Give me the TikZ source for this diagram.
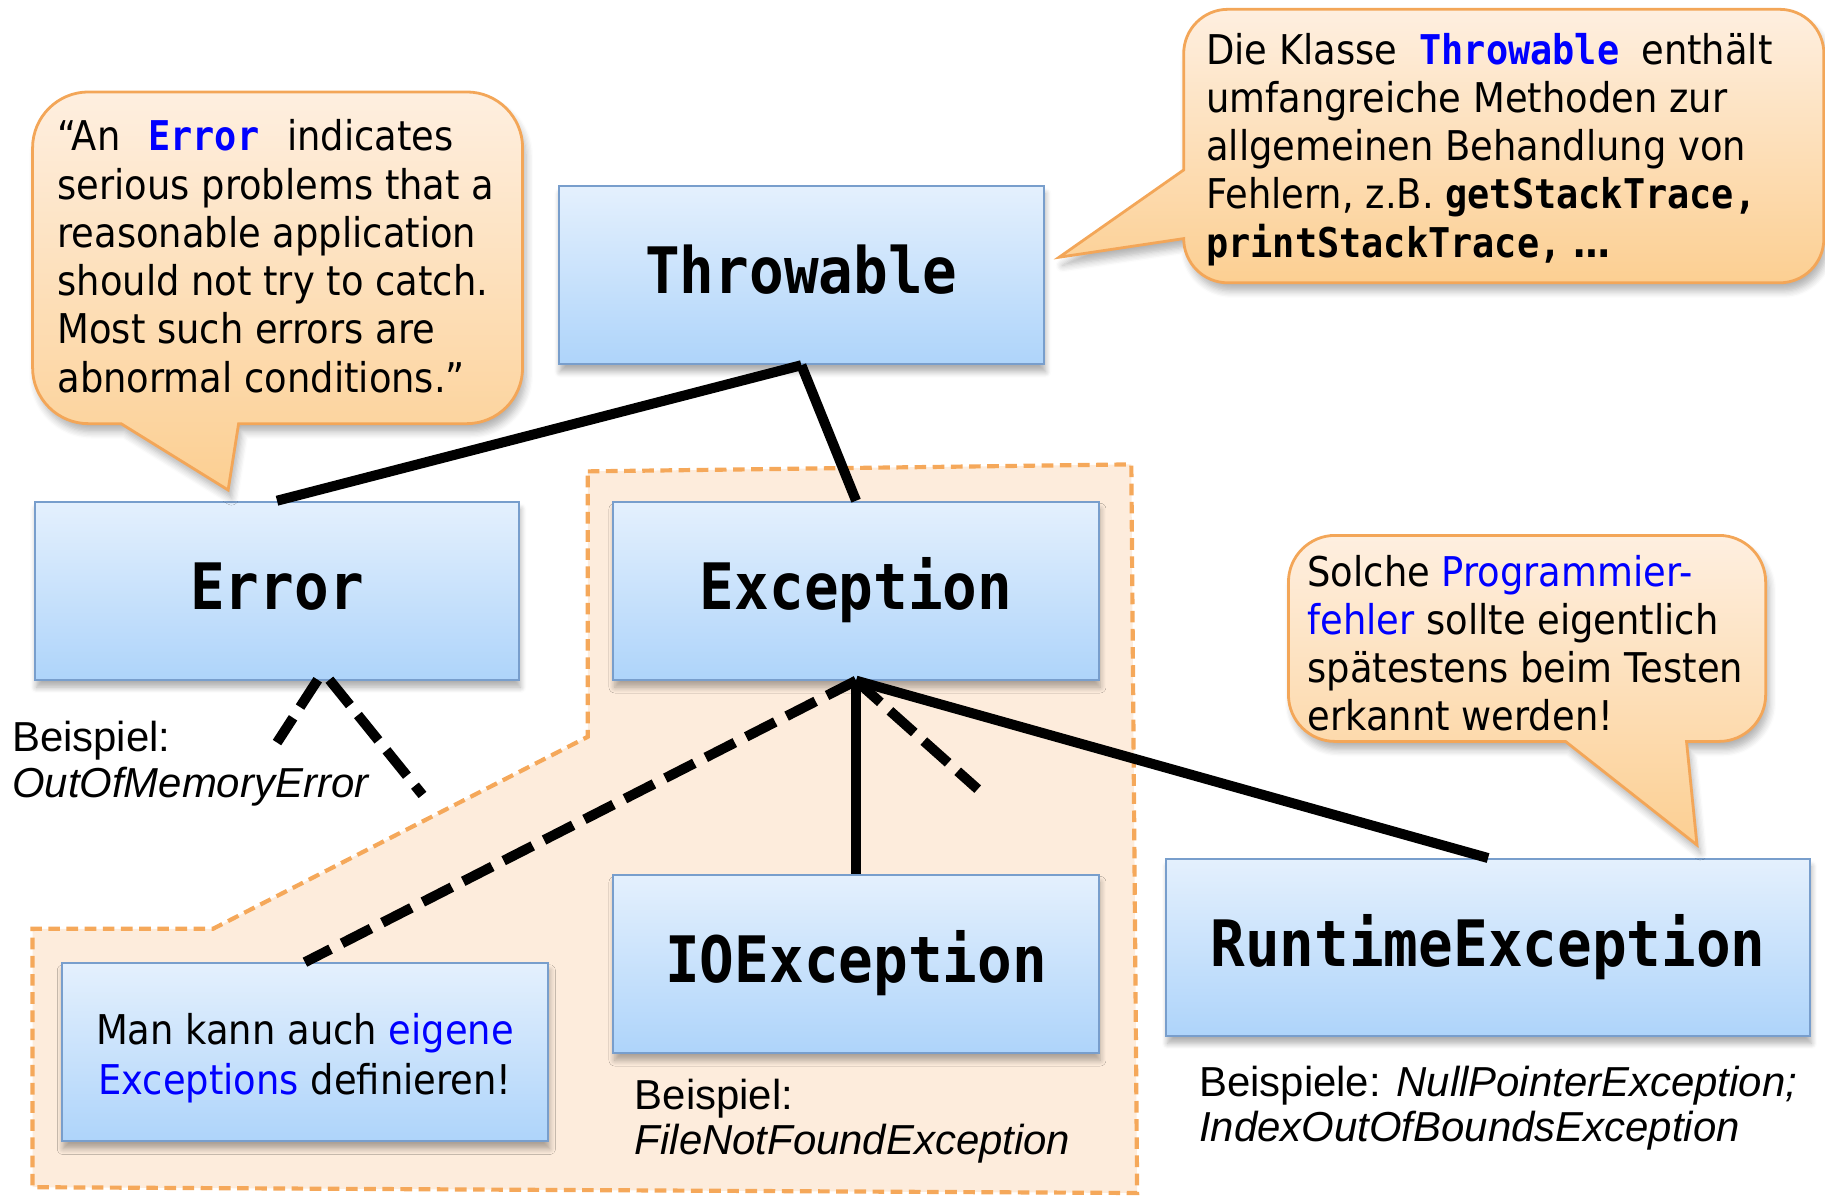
\documentclass[tikz,border=0pt]{standalone}
\usepackage{fontspec}
\setmainfont{DejaVu Sans}[FakeStretch=0.9]
\newfontfamily\codefont{DejaVu Sans Mono}[FakeStretch=0.9]
\newfontfamily\lblfont{Liberation Sans}
\usetikzlibrary{shadows.blur}
\definecolor{boxtop}{RGB}{228,240,253}
\definecolor{boxbot}{RGB}{174,212,250}
\definecolor{boxline}{RGB}{120,158,204}
\definecolor{calltop}{RGB}{254,239,224}
\definecolor{callbot}{RGB}{252,207,146}
\definecolor{callline}{RGB}{243,166,88}
\definecolor{regfill}{RGB}{253,236,220}
\definecolor{regline}{RGB}{245,168,90}
\definecolor{kwblue}{RGB}{0,0,255}
\newcommand\cd[1]{{\codefont\bfseries #1}}
\tikzset{
  classbox/.style={draw=boxline, line width=0.8pt, top color=boxtop, bottom color=boxbot,
    minimum height=76.5pt, inner sep=0pt,
    font=\codefont\bfseries\fontsize{27.5}{33}\selectfont,
    blur shadow={shadow xshift=0.6pt, shadow yshift=-3.2pt, shadow blur radius=2.5pt, shadow blur steps=6, shadow opacity=32}},
  classname/.style={text height=22pt, text depth=6pt},
  callshape/.style={draw=callline, line width=1.2pt, top color=calltop, bottom color=callbot,
    blur shadow={shadow xshift=1.5pt, shadow yshift=-3.5pt, shadow blur radius=3pt, shadow blur steps=6, shadow opacity=30}},
  ctext/.style={font=\fontsize{17.6}{20.75}\selectfont, inner sep=0pt, align=left, anchor=base west},
  lbl/.style={font=\lblfont\fontsize{18}{19.5}\selectfont, inner sep=0pt, align=left, anchor=base west},
  link/.style={line width=4.3pt, black},
  dlink/.style={link, dash pattern=on 14pt off 5.5pt},
  region/.style={fill=regfill, draw=regline, line width=1.8pt, dash pattern=on 5pt off 2.8pt}
}
\begin{document}
\begin{tikzpicture}[x=0.5pt,y=-0.5pt]
\useasboundingbox (0,0) rectangle (1568,1027.6);

% dashed region
\path[region] (505,405) -- (972,399) -- (977,1025) -- (28,1020) -- (28,798) -- (183,798) -- (505,633) -- cycle;

% free ends of the dashed connectors
\coordinate (excfree) at (840,678);
\coordinate (errapexL) at (273,584);
\coordinate (errapexR) at (283,584);
\coordinate (errfreeL) at (238,638);
\coordinate (errfreeR) at (363,683);

% class boxes
\node[classbox, classname, minimum width=208.5pt] (throwable) at (688.5,236.5) {Throwable};
\node[classbox, classname, minimum width=208pt] (error) at (238,507.5) {Error};
\node[classbox, classname, minimum width=208.5pt] (exception) at (735.5,507.5) {Exception};
\node[classbox, classname, minimum width=208.5pt] (ioexc) at (735.5,828) {IOException};
\node[classbox, classname, minimum width=276.5pt, minimum height=76pt] (runtime) at (1278.5,814) {RuntimeException};
\node[classbox, minimum width=209pt, font=\fontsize{17.6}{21.6}\selectfont, align=center] (own) at (262,904)
  {\rule{0pt}{18.4pt}Man kann auch \textcolor{kwblue}{eigene}\\\textcolor{kwblue}{Exceptions} definieren!};

% connectors
\draw[link] (throwable.south) -- (error.north);
\draw[link] (throwable.south) -- (exception.north);
\draw[link] (exception.south) -- (ioexc.north);
\draw[link] (exception.south) -- (runtime.north);
\draw[dlink] (exception.south) -- (own.north);
\draw[dlink] (exception.south) -- (excfree);
\draw[dlink] (errapexL) -- (errfreeL);
\draw[dlink] (errapexR) -- (errfreeR);

% callout 1 (Error quote)
\path[callshape] (76,79) -- (401,79) .. controls (427.5,79) and (449,100.5) .. (449,127)
  -- (449,316) .. controls (449,342.5) and (427.5,364) .. (401,364)
  -- (205,364) -- (196,421) -- (104,364)
  -- (76,364) .. controls (49.5,364) and (28,342.5) .. (28,316)
  -- (28,127) .. controls (28,100.5) and (49.5,79) .. (76,79) -- cycle;
\node[ctext] (quote) at (49,337)
  {“An\hspace{12pt}\textcolor{kwblue}{\cd{Error}}\hspace{12pt}indicates\\serious problems that a\\reasonable application\\should not try to catch.\\Most such errors are\\abnormal conditions.”};

% callout 2 (Throwable)
\path[callshape] (1055,8) -- (1529,8) .. controls (1550,8) and (1567,25) .. (1567,46)
  -- (1567,205) .. controls (1567,226) and (1550,243) .. (1529,243)
  -- (1055,243) .. controls (1034,243) and (1017,226) .. (1017,205)
  -- (910,221) -- (1017,146)
  -- (1017,46) .. controls (1017,25) and (1034,8) .. (1055,8) -- cycle;
\node[ctext] (throwinfo) at (1036,221)
  {Die Klasse\hspace{9.5pt}\textcolor{kwblue}{\cd{Throwable}}\hspace{9.5pt}enthält\\umfangreiche Methoden zur\\allgemeinen Behandlung von\\Fehlern, z.B. \cd{getStackTrace,}\\\cd{printStackTrace,} {\bfseries …}};

% callout 3 (Programmierfehler)
\path[callshape] (1147,460) -- (1477,460) .. controls (1499,460) and (1517,478) .. (1517,500)
  -- (1517,597) .. controls (1517,619) and (1499,637) .. (1477,637)
  -- (1449,637) -- (1458,726) -- (1345,637)
  -- (1147,637) .. controls (1125,637) and (1107,619) .. (1107,597)
  -- (1107,500) .. controls (1107,478) and (1125,460) .. (1147,460) -- cycle;
\node[ctext] (rtinfo) at (1123,628)
  {Solche \textcolor{kwblue}{Programmier-}\\\textcolor{kwblue}{fehler} sollte eigentlich\\spätestens beim Testen\\erkannt werden!};

% example labels
\node[lbl] (errex) at (10,685) {Beispiel:\\\textit{OutOfMemoryError}};
\node[lbl] (ioex) at (545,992) {Beispiel:\\\textit{FileNotFoundException}};
\node[lbl] (rtex) at (1030,981) {Beispiele: \textit{NullPointerException;}\\\textit{IndexOutOfBoundsException}};
\end{tikzpicture}
\end{document}
